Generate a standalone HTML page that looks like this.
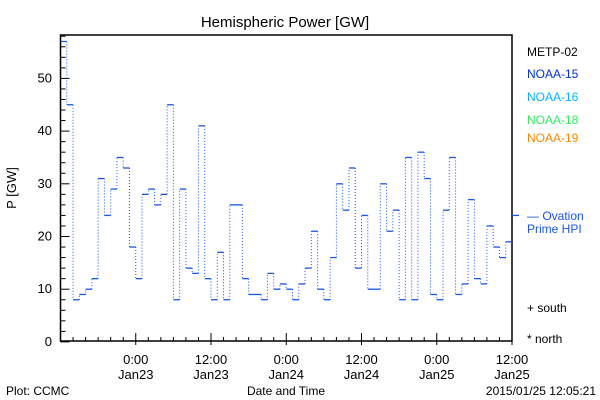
<!DOCTYPE html>
<html><head><meta charset="utf-8"><style>
html,body{margin:0;padding:0;background:#fff;}
svg{display:block;font-family:"Liberation Sans","DejaVu Sans",sans-serif;}
</style></head><body>
<svg id="chart" width="600" height="400" viewBox="0 0 600 400">
<rect x="0" y="0" width="600" height="400" fill="#fff"/>
<text x="285" y="27" font-size="15" text-anchor="middle">Hemispheric Power [GW]</text>
<rect x="60.5" y="35" width="451.5" height="306" fill="none" stroke="#000" stroke-width="1.5"/>
<g id="yaxis"></g>
<g id="xaxis"></g>
<g id="series"></g>
<text x="16" y="188" font-size="13" text-anchor="middle" transform="rotate(-90 16 188)">P [GW]</text>
<text x="286" y="395" font-size="12" text-anchor="middle">Date and Time</text>
<text x="6" y="395" font-size="12">Plot: CCMC</text>
<text x="596" y="395" font-size="12" text-anchor="end">2015/01/25 12:05:21</text>
<g font-size="12">
<text x="527" y="56" fill="#000">METP-02</text>
<text x="527" y="78" fill="#0030e0">NOAA-15</text>
<text x="527" y="101" fill="#00b8ff">NOAA-16</text>
<text x="527" y="124" fill="#30ee60">NOAA-18</text>
<text x="527" y="142" fill="#ff8800">NOAA-19</text>
<text x="527" y="220" fill="#1a55ee">— Ovation</text>
<text x="527" y="233" fill="#1a55ee">Prime HPI</text>
<text x="527" y="312" fill="#000">+ south</text>
<text x="527" y="343" fill="#000">* north</text>
</g>
</svg>
<script>
const hpValues = [57,45,8,9,10,12,31,24,29,35,33,18,12,28,29,26,28,45,8,29,14,13,41,12,8,17,8,26,26,
12,9,9,8,13,10,11,10,8,11,14,21,10,8,16,30,25,33,14,24,10,10,30,21,25,8,35,8,36,31,9,8,25,35,9,11,27,12,11,22,18,16,19];
const yTicks = [0,10,20,30,40,50];
const xTickLabels = [["0:00","Jan23"],["12:00","Jan23"],["0:00","Jan24"],["12:00","Jan24"],["0:00","Jan25"],["12:00","Jan25"]];
const ovationValue = 24;

const NS="http://www.w3.org/2000/svg";
const X0=60.5,X1=512,Y0=341.9,PXU=5.27,HOURS=72;
const xs=h=>X0+(X1-X0)*h/HOURS;
const ys=v=>Y0-v*PXU;
function mk(tag,attrs,parent){const e=document.createElementNS(NS,tag);for(const k in attrs)e.setAttribute(k,attrs[k]);parent.appendChild(e);return e;}
const ya=document.getElementById('yaxis'),xa=document.getElementById('xaxis'),sg=document.getElementById('series');
for(let v=0;v<=58;v+=2){
  const y=ys(v);const major=v%10===0;
  const t=mk('line',{x1:X0,x2:X0+(major?9:5),y1:y,y2:y,stroke:'#000','stroke-width':1},ya);
  
  
}
yTicks.forEach(v=>{
  const t=mk('text',{x:52,y:ys(v)+4,'font-size':13,'text-anchor':'end'},ya);t.textContent=v;
  
  
});
for(let h=0;h<=HOURS;h+=2){
  const x=xs(h);const major=(h-12)%24===0||h%12===0;
  const isMaj=h%12===0&&h>0;
  const t=mk('line',{x1:x,x2:x,y1:isMaj?345:341,y2:isMaj?333:337,stroke:'#000','stroke-width':1},xa);
  
  
}
xTickLabels.forEach((lb,i)=>{
  const x=xs(12+12*i);
  const t1=mk('text',{x:x,y:364,'font-size':13,'text-anchor':'middle'},xa);t1.textContent=lb[0];
  
  
  const t2=mk('text',{x:x,y:379,'font-size':13,'text-anchor':'middle'},xa);t2.textContent=lb[1];
  
  
});
const col='#1a55ee';
hpValues.forEach((v,i)=>{
  const l=mk('line',{x1:xs(i),x2:xs(i+1),y1:ys(v),y2:ys(v),stroke:col,'stroke-width':1.3},sg);
  
  
  if(i>0){
    const d=mk('line',{x1:xs(i),x2:xs(i),y1:ys(hpValues[i-1]),y2:ys(v),stroke:col,'stroke-width':1,'stroke-dasharray':'1 2'},sg);
    
    
  }
});
const ov=mk('line',{x1:X1,x2:X1+7,y1:ys(ovationValue),y2:ys(ovationValue),stroke:col,'stroke-width':1.3},sg);


</script>
</body></html>
